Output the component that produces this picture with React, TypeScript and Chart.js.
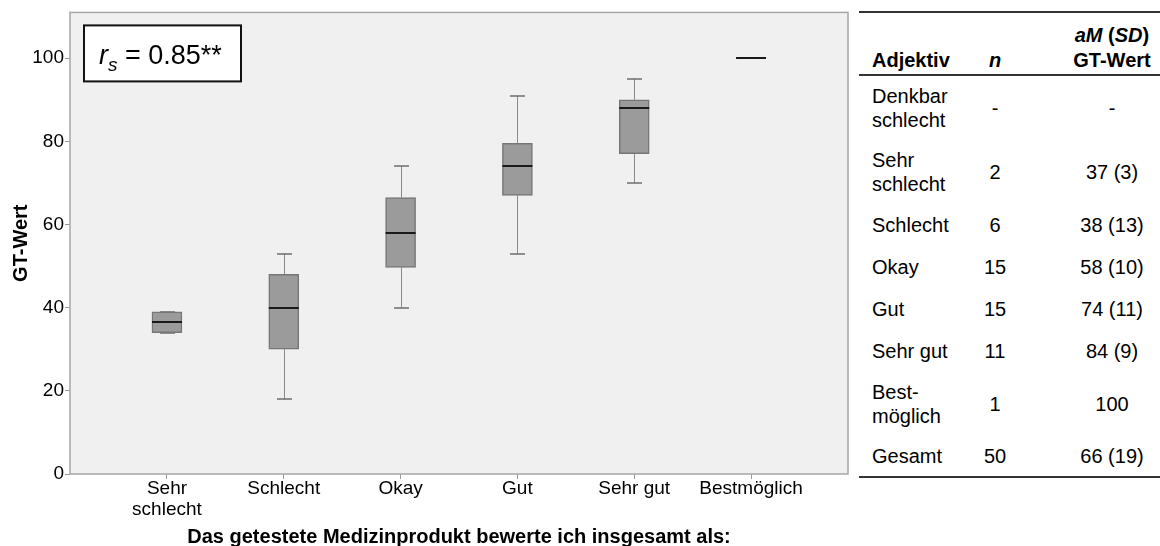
import React, { useEffect, useRef } from "react";
import { Chart, registerables } from "chart.js";

Chart.register(...registerables);

// ---------- data ----------
const categories = ["Sehr schlecht", "Schlecht", "Okay", "Gut", "Sehr gut", "Bestmöglich"];
const xTickLabels: (string | string[])[] = [["Sehr", "schlecht"], "Schlecht", "Okay", "Gut", "Sehr gut", "Bestmöglich"];
const whiskerLow: (number | null)[] = [34, 18, 40, 53, 70, null];
const q1: (number | null)[] = [34, 30, 49.7, 67, 77, null];
const median: (number | null)[] = [36.6, 40, 58, 74, 88, 100];
const q3: (number | null)[] = [39, 48, 66.5, 79.5, 90, null];
const whiskerHigh: (number | null)[] = [39, 53, 74, 91, 95, null];
const yTicks = [0, 20, 40, 60, 80, 100];

const yTitle = "GT-Wert";
const xTitle = "Das getestete Medizinprodukt bewerte ich insgesamt als:";
const corrLabel = "0.85**";

const tableAdjectives: string[][] = [
  ["Denkbar", "schlecht"],
  ["Sehr", "schlecht"],
  ["Schlecht"],
  ["Okay"],
  ["Gut"],
  ["Sehr gut"],
  ["Best-", "möglich"],
  ["Gesamt"],
];
const tableN = ["-", "2", "6", "15", "15", "11", "1", "50"];
const tableMeanSd = ["-", "37 (3)", "38 (13)", "58 (10)", "74 (11)", "84 (9)", "100", "66 (19)"];

// ---------- style ----------
const FONT = "'Liberation Sans', Arial, Helvetica, sans-serif";
const BOX_W = 30;
const CAP_W = 15;

const boxPlugin = {
  id: "boxExtras",
  beforeDraw(chart: any) {
    const { ctx, chartArea: a } = chart;
    ctx.save();
    ctx.fillStyle = "#f0f0f0";
    ctx.fillRect(a.left, a.top, a.right - a.left, a.bottom - a.top);
    ctx.restore();
  },
  beforeDatasetsDraw(chart: any) {
    const { ctx } = chart;
    const xs = chart.scales.x;
    const ys = chart.scales.y;
    ctx.save();
    categories.forEach((_, i) => {
      const x = Math.round(xs.getPixelForValue(i)) + 0.5;
      const lo = whiskerLow[i], hi = whiskerHigh[i], a = q1[i], b = q3[i];
      if (lo == null || hi == null || a == null || b == null) return;
      ctx.strokeStyle = "#8a8a8a";
      ctx.lineWidth = 1;
      ctx.beginPath();
      ctx.moveTo(x, ys.getPixelForValue(b));
      ctx.lineTo(x, ys.getPixelForValue(hi));
      ctx.moveTo(x, ys.getPixelForValue(a));
      ctx.lineTo(x, ys.getPixelForValue(lo));
      ctx.stroke();
      ctx.strokeStyle = "#6e6e6e";
      ctx.lineWidth = 1.5;
      ctx.beginPath();
      [lo, hi].forEach((v) => {
        const y = Math.round(ys.getPixelForValue(v));
        ctx.moveTo(x - CAP_W / 2, y);
        ctx.lineTo(x + CAP_W / 2, y);
      });
      ctx.stroke();
    });
    ctx.restore();
  },
  afterDatasetsDraw(chart: any) {
    const { ctx, chartArea: a } = chart;
    const xs = chart.scales.x;
    const ys = chart.scales.y;
    ctx.save();
    ctx.strokeStyle = "#1a1a1a";
    ctx.lineWidth = 2;
    categories.forEach((_, i) => {
      const m = median[i];
      if (m == null) return;
      const x = xs.getPixelForValue(i);
      const y = Math.round(ys.getPixelForValue(m));
      ctx.beginPath();
      ctx.moveTo(x - BOX_W / 2, y);
      ctx.lineTo(x + BOX_W / 2, y);
      ctx.stroke();
    });
    // plot frame
    ctx.strokeStyle = "#a6a6a6";
    ctx.lineWidth = 1.5;
    ctx.strokeRect(a.left, a.top, a.right - a.left, a.bottom - a.top);
    // correlation box
    const bx = a.left + 14, by = a.top + 13, bw = 157, bh = 56;
    ctx.fillStyle = "#ffffff";
    ctx.fillRect(bx, by, bw, bh);
    ctx.strokeStyle = "#111";
    ctx.lineWidth = 2;
    ctx.strokeRect(bx, by, bw, bh);
    ctx.fillStyle = "#000";
    ctx.textBaseline = "alphabetic";
    ctx.textAlign = "left";
    const base = by + 39;
    let tx = bx + 15;
    ctx.font = `italic 27px ${FONT}`;
    ctx.fillText("r", tx, base);
    tx += ctx.measureText("r").width;
    ctx.font = `italic 19px ${FONT}`;
    ctx.fillText("s", tx, base + 7);
    tx += ctx.measureText("s").width;
    ctx.font = `27px ${FONT}`;
    ctx.fillText(" = " + corrLabel, tx, base);
    ctx.restore();
  },
};

function ChartCanvas() {
  const ref = useRef<HTMLCanvasElement | null>(null);
  useEffect(() => {
    if (!ref.current) return;
    const boxData = categories
      .map((_, i) => (q1[i] != null && q3[i] != null ? { x: i, y: [q1[i], q3[i]] } : null))
      .filter((d) => d !== null);
    const chart = new Chart(ref.current, {
      type: "bar",
      data: {
        datasets: [
          {
            data: boxData as any,
            backgroundColor: "#9b9b9b",
            borderColor: "#767676",
            borderWidth: 1.5,
            borderSkipped: false,
            barThickness: BOX_W,
          } as any,
        ],
      },
      options: {
        responsive: false,
        animation: false,
        layout: { padding: { top: 11, right: 2, left: 0, bottom: 0 } },
        plugins: { legend: { display: false }, tooltip: { enabled: false } },
        scales: {
          x: {
            type: "linear",
            offset: false,
            min: -0.83,
            max: 5.83,
            afterBuildTicks: (s: any) => {
              s.ticks = categories.map((_, i) => ({ value: i }));
            },
            afterFit: (s: any) => {
              s.height = 72;
            },
            ticks: {
              callback: (_v: any, idx: number) => xTickLabels[idx],
              font: { family: FONT, size: 19, lineHeight: 1.08 },
              color: "#000",
              padding: 0,
              maxRotation: 0,
              autoSkip: false,
            },
            grid: { offset: false, drawOnChartArea: false, drawTicks: true, tickLength: 5, color: "#999" },
            border: { display: false },
            title: {
              display: true,
              text: xTitle,
              font: { family: FONT, size: 20, weight: "bold", lineHeight: 1 },
              color: "#000",
              padding: { top: 0, bottom: -1 },
            },
          },
          y: {
            type: "linear",
            min: 0,
            max: 111,
            afterBuildTicks: (s: any) => {
              s.ticks = yTicks.map((v) => ({ value: v }));
            },
            afterFit: (s: any) => {
              s.width = 70;
            },
            ticks: {
              font: { family: FONT, size: 19 },
              color: "#000",
              padding: 1,
            },
            grid: { drawOnChartArea: false, drawTicks: true, tickLength: 5, color: "#999" },
            border: { display: false },
            title: {
              display: true,
              text: yTitle,
              font: { family: FONT, size: 20, weight: "bold" },
              color: "#000",
              padding: { top: 9, bottom: 0 },
            },
          },
        },
      } as any,
      plugins: [boxPlugin],
    });
    return () => chart.destroy();
  }, []);
  return <canvas ref={ref} width={850} height={546} style={{ position: "absolute", left: 0, top: 0 }} />;
}

function StatsTable() {
  const cell: React.CSSProperties = { padding: 0, verticalAlign: "middle" };
  const line = "2px solid #333";
  return (
    <table
      style={{
        position: "absolute",
        left: 859,
        top: 11,
        width: 301,
        borderCollapse: "separate",
        borderSpacing: 0,
        fontFamily: FONT,
        fontSize: 20,
        color: "#000",
        tableLayout: "fixed",
      }}
    >
      <colgroup>
        <col style={{ width: 110 }} />
        <col style={{ width: 52 }} />
        <col style={{ width: 139 }} />
      </colgroup>
      <thead>
        <tr style={{ height: 65 }}>
          <th style={{ ...cell, verticalAlign: "bottom", textAlign: "left", paddingLeft: 13, paddingBottom: 1, lineHeight: "25px", borderTop: line, borderBottom: line }}>
            Adjektiv
          </th>
          <th style={{ ...cell, verticalAlign: "bottom", textAlign: "center", paddingBottom: 1, lineHeight: "25px", borderTop: line, borderBottom: line }}>
            <i>n</i>
          </th>
          <th style={{ ...cell, verticalAlign: "bottom", textAlign: "center", paddingLeft: 43, paddingBottom: 1, lineHeight: "25px", borderTop: line, borderBottom: line }}>
            <i>aM</i> (<i>SD</i>)<br />GT-Wert
          </th>
        </tr>
      </thead>
      <tbody>
        {tableAdjectives.map((adj, i) => {
          const last = i === tableAdjectives.length - 1;
          const bb = last ? line : "none";
          return (
            <tr key={i} style={{ height: adj.length > 1 ? 64 : 42 }}>
              <td style={{ ...cell, textAlign: "left", paddingLeft: 13, lineHeight: "24px", borderBottom: bb }}>
                {adj.map((t, j) => (
                  <React.Fragment key={j}>
                    {j > 0 && <br />}
                    {t}
                  </React.Fragment>
                ))}
              </td>
              <td style={{ ...cell, textAlign: "center", borderBottom: bb }}>{tableN[i]}</td>
              <td style={{ ...cell, textAlign: "center", paddingLeft: 43, borderBottom: bb }}>{tableMeanSd[i]}</td>
            </tr>
          );
        })}
      </tbody>
    </table>
  );
}

export default function App() {
  return (
    <div style={{ position: "fixed", left: 0, top: 0, width: 1160, height: 546, background: "#fff", overflow: "hidden" }}>
      <ChartCanvas />
      <StatsTable />
    </div>
  );
}
